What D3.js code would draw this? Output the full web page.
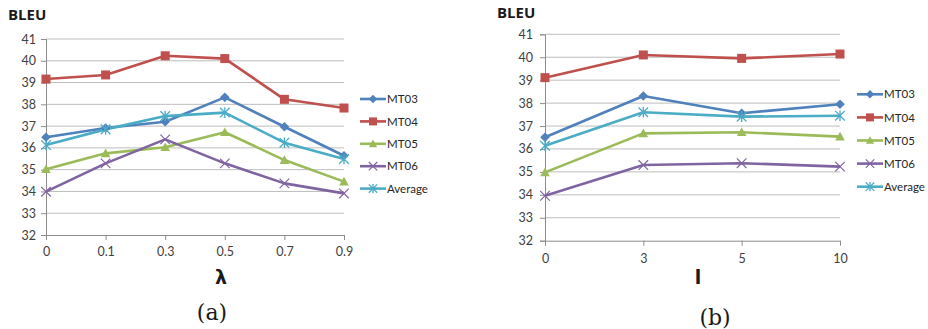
<!DOCTYPE html>
<html><head><meta charset="utf-8">
<script src="https://cdn.jsdelivr.net/npm/d3@7"></script>
<style>body{margin:0;background:#fff}svg{display:block}</style>
</head><body>
<svg id="c" width="928" height="329"></svg>
<script>
// ---- data ----
const seriesNames = ["MT03", "MT04", "MT05", "MT06", "Average"];
const seriesColors = ["#4F81BD", "#C0504D", "#9BBB59", "#8064A2", "#4BACC6"];
const seriesMarkers = ["diamond", "square", "triangle", "x", "star"];
const yTicks = [32, 33, 34, 35, 36, 37, 38, 39, 40, 41];

const categoriesA = ["0", "0.1", "0.3", "0.5", "0.7", "0.9"];
const mt03A = [36.49, 36.91, 37.20, 38.32, 36.97, 35.64];
const mt04A = [39.16, 39.35, 40.23, 40.10, 38.23, 37.83];
const mt05A = [35.02, 35.75, 36.03, 36.72, 35.44, 34.45];
const mt06A = [33.99, 35.29, 36.39, 35.29, 34.37, 33.91];
const avgA  = [36.13, 36.85, 37.46, 37.62, 36.24, 35.49];

const categoriesB = ["0", "3", "5", "10"];
const mt03B = [36.51, 38.31, 37.56, 37.95];
const mt04B = [39.11, 40.10, 39.95, 40.14];
const mt05B = [34.98, 36.68, 36.73, 36.54];
const mt06B = [33.96, 35.30, 35.38, 35.23];
const avgB  = [36.14, 37.60, 37.41, 37.45];

// ---- drawing ----
const svg = d3.select("#c");
const tickFont = "Lato, 'Open Sans', sans-serif";

function marker(g, type, color, s) {
  if (type === "diamond") {
    g.append("path").attr("d", `M0,${-s}L${s},0L0,${s}L${-s},0Z`).attr("fill", color);
  } else if (type === "square") {
    g.append("rect").attr("x", -s).attr("y", -s).attr("width", 2 * s).attr("height", 2 * s).attr("fill", color);
  } else if (type === "triangle") {
    g.append("path").attr("d", `M0,${-s}L${s},${s * 0.8}L${-s},${s * 0.8}Z`).attr("fill", color);
  } else if (type === "x") {
    g.append("path").attr("d", `M${-s},${-s}L${s},${s}M${-s},${s}L${s},${-s}`).attr("stroke", color).attr("stroke-width", 1.2);
  } else if (type === "star") {
    g.append("path").attr("d", `M${-s},${-s}L${s},${s}M${-s},${s}L${s},${-s}M0,${-s * 1.1}L0,${s * 1.1}`).attr("stroke", color).attr("stroke-width", 1.3);
  }
}

function drawChart(opt) {
  const x = d3.scalePoint().domain(opt.categories).range([opt.x0, opt.x1]).padding(0);
  const y = d3.scaleLinear().domain([32, 41]).range([opt.yb, opt.yt]);
  const g = svg.append("g");

  // grid
  g.append("g").selectAll("line").data(yTicks.slice(1)).join("line")
    .attr("x1", opt.x0).attr("x2", opt.x1)
    .attr("y1", d => y(d)).attr("y2", d => y(d))
    .attr("stroke", "#BDBDBD").attr("stroke-width", 1);

  // y axis
  const ya = g.append("g").attr("transform", `translate(${opt.x0},0)`)
    .call(d3.axisLeft(y).tickValues(yTicks).tickSize(5).tickPadding(opt.yPad).tickFormat(d3.format("d")));
  ya.select(".domain").attr("stroke", "#8C8C8C");
  ya.selectAll(".tick line").attr("stroke", "#8C8C8C");
  ya.selectAll("text").attr("font-family", tickFont).attr("font-size", 12.5).attr("fill", "#404040");

  // x axis
  const xa = g.append("g").attr("transform", `translate(0,${opt.yb})`)
    .call(d3.axisBottom(x).tickSize(5).tickPadding(opt.xPad).tickSizeOuter(0));
  xa.select(".domain").attr("stroke", "#8C8C8C");
  xa.selectAll(".tick line").attr("stroke", "#8C8C8C");
  xa.selectAll("text").attr("font-family", tickFont).attr("font-size", 12.5).attr("fill", "#404040");

  // series
  opt.series.forEach((vals, i) => {
    const line = d3.line().x((d, j) => x(opt.categories[j])).y(d => y(d));
    g.append("path").datum(vals).attr("d", line).attr("fill", "none")
      .attr("stroke", seriesColors[i]).attr("stroke-width", 2.6).attr("stroke-linejoin", "round");
  });
  opt.series.forEach((vals, i) => {
    vals.forEach((v, j) => {
      const m = g.append("g").attr("transform", `translate(${x(opt.categories[j])},${y(v)})`);
      marker(m, seriesMarkers[i], seriesColors[i], seriesMarkers[i] === "square" ? 4.5 : 4.8);
    });
  });

  // legend
  seriesNames.forEach((name, i) => {
    const ly = opt.legY + i * opt.legStep;
    g.append("line").attr("x1", opt.legX).attr("x2", opt.legX + 26).attr("y1", ly).attr("y2", ly)
      .attr("stroke", seriesColors[i]).attr("stroke-width", 2.6);
    const m = g.append("g").attr("transform", `translate(${opt.legX + 13},${ly})`);
    marker(m, seriesMarkers[i], seriesColors[i], seriesMarkers[i] === "square" ? 4 : 4.2);
    g.append("text").attr("x", opt.legX + 27).attr("y", ly).attr("dy", "0.36em")
      .attr("font-family", tickFont).attr("font-size", 11.5).attr("fill", "#262626").text(name);
  });

  // title
  g.append("text").attr("x", opt.titleX).attr("y", opt.titleY)
    .attr("font-family", "'Open Sans', sans-serif").attr("font-weight", "bold").attr("font-size", 15)
    .attr("fill", "#1a1a1a").text("BLEU");
  // axis label
  g.append("text").attr("x", opt.labX).attr("y", opt.labY).attr("text-anchor", "middle")
    .attr("font-family", "'DejaVu Sans', sans-serif").attr("font-weight", "bold").attr("font-size", 19)
    .attr("fill", "#1a1a1a").text(opt.axisLabel);
  // caption
  g.append("text").attr("x", opt.capX).attr("y", opt.capY).attr("text-anchor", "middle")
    .attr("font-family", "'DejaVu Serif', serif").attr("font-size", 22)
    .attr("fill", "#1a1a1a").text(opt.caption);
}

drawChart({
  categories: categoriesA, series: [mt03A, mt04A, mt05A, mt06A, avgA],
  x0: 46, x1: 344, yb: 235, yt: 39, yPad: 5, xPad: 7,
  legX: 360, legY: 99, legStep: 22.4,
  titleX: 8, titleY: 20, labX: 221, labY: 284, axisLabel: "λ",
  capX: 212, capY: 320, caption: "(a)"
});
drawChart({
  categories: categoriesB, series: [mt03B, mt04B, mt05B, mt06B, avgB],
  x0: 545, x1: 840, yb: 240.7, yt: 34.3, yPad: 7, xPad: 8,
  legX: 857, legY: 94.3, legStep: 23.1,
  titleX: 497, titleY: 18, labX: 698, labY: 284, axisLabel: "l",
  capX: 715, capY: 325, caption: "(b)"
});
</script>
</body></html>
